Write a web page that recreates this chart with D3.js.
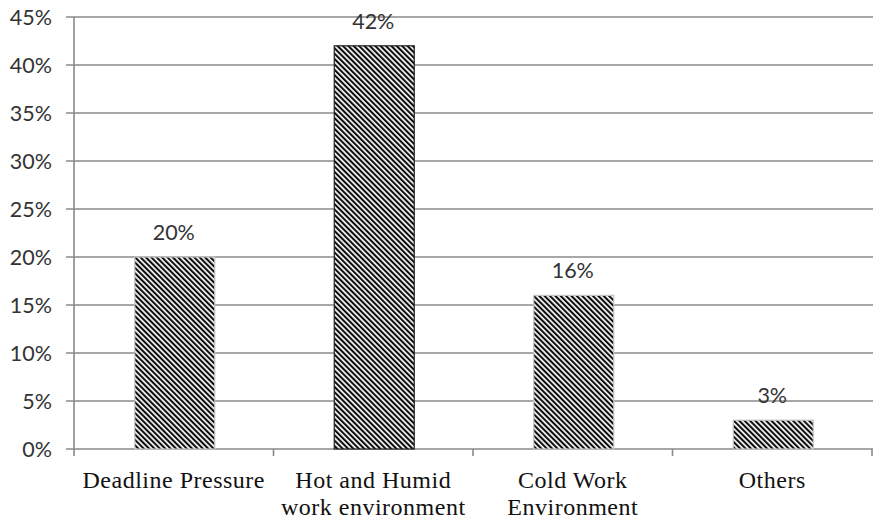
<!DOCTYPE html>
<html>
<head>
<meta charset="utf-8">
<script src="https://cdn.jsdelivr.net/npm/d3@7"></script>
<style>
  html, body { margin: 0; padding: 0; background: #fff; }
  svg { display: block; }
</style>
</head>
<body>
<svg id="chart" width="873" height="521"></svg>
<script>
// Share of respondents by stress factor
const categories = [
  ["Deadline Pressure"],
  ["Hot and Humid", "work environment"],
  ["Cold Work", "Environment"],
  ["Others"]
];
const values = [20, 42, 16, 3];
const valueLabels = ["20%", "42%", "16%", "3%"];
const yTicks = [0, 5, 10, 15, 20, 25, 30, 35, 40, 45];

const W = 873, H = 521;
const margin = { top: 17, right: 1, bottom: 72, left: 74 };
const svg = d3.select("#chart");

// Diagonal hatch fill for the bars
const defs = svg.append("defs");
const pat = defs.append("pattern")
  .attr("id", "hatch")
  .attr("patternUnits", "userSpaceOnUse")
  .attr("width", 3.8).attr("height", 3.8)
  .attr("patternTransform", "rotate(-45)");
pat.append("rect").attr("width", 3.8).attr("height", 3.8).attr("fill", "#fff");
pat.append("rect").attr("width", 2.1).attr("height", 3.8).attr("fill", "#0d0d0d");

const bandEdge = d3.scaleLinear()
  .domain([0, categories.length])
  .range([margin.left, W - margin.right]);
const xMid = i => (bandEdge(i) + bandEdge(i + 1)) / 2;
const barW = 80;

const y = d3.scaleLinear().domain([0, 45]).range([H - margin.bottom, margin.top]);

// Horizontal gridlines
svg.append("g")
  .selectAll("line")
  .data(yTicks)
  .join("line")
  .attr("x1", margin.left - 8)
  .attr("x2", W)
  .attr("y1", d => y(d))
  .attr("y2", d => y(d))
  .attr("stroke", "#8a8a8a")
  .attr("stroke-width", 1.6);

// Y axis tick labels
svg.append("g")
  .selectAll("text")
  .data(yTicks)
  .join("text")
  .attr("x", 52)
  .attr("y", d => y(d) + 7.5)
  .attr("text-anchor", "end")
  .attr("font-family", "Lato, 'Open Sans', sans-serif")
  .attr("font-size", 21.5)
  .attr("fill", "#333")
  .text(d => d + "%");

// Y axis line
svg.append("line")
  .attr("x1", margin.left).attr("x2", margin.left)
  .attr("y1", y(45)).attr("y2", y(0))
  .attr("stroke", "#8a8a8a").attr("stroke-width", 1.6);

// Category tick marks on x axis
svg.append("g")
  .selectAll("line")
  .data(d3.range(categories.length + 1))
  .join("line")
  .attr("x1", d => bandEdge(d))
  .attr("x2", d => bandEdge(d))
  .attr("y1", y(0))
  .attr("y2", y(0) + 7)
  .attr("stroke", "#8a8a8a").attr("stroke-width", 1.6);

// Bars
svg.append("g")
  .selectAll("rect")
  .data(values)
  .join("rect")
  .attr("x", (d, i) => xMid(i) - barW / 2 + 1)
  .attr("width", barW)
  .attr("y", d => y(d))
  .attr("height", d => y(0) - y(d))
  .attr("fill", "url(#hatch)")
  .attr("stroke", (d, i) => i === 1 ? "#222" : "#c4c4c4")
  .attr("stroke-width", 1.2);

// Value labels above bars
svg.append("g")
  .selectAll("text")
  .data(values)
  .join("text")
  .attr("x", (d, i) => xMid(i))
  .attr("y", d => y(d) - 17)
  .attr("text-anchor", "middle")
  .attr("font-family", "Lato, 'Open Sans', sans-serif")
  .attr("font-size", 21.5)
  .attr("fill", "#333")
  .text((d, i) => valueLabels[i]);

// Category labels
const cat = svg.append("g")
  .selectAll("text")
  .data(categories)
  .join("text")
  .attr("x", (d, i) => xMid(i))
  .attr("y", 488)
  .attr("text-anchor", "middle")
  .attr("font-family", "'Liberation Serif', 'Times New Roman', serif")
  .attr("font-size", 24)
  .attr("letter-spacing", 0.5)
  .attr("fill", "#111");
cat.selectAll("tspan")
  .data(d => d)
  .join("tspan")
  .attr("x", function () { return d3.select(this.parentNode).attr("x"); })
  .attr("dy", (d, i) => i === 0 ? 0 : 27)
  .text(d => d);
</script>
</body>
</html>
